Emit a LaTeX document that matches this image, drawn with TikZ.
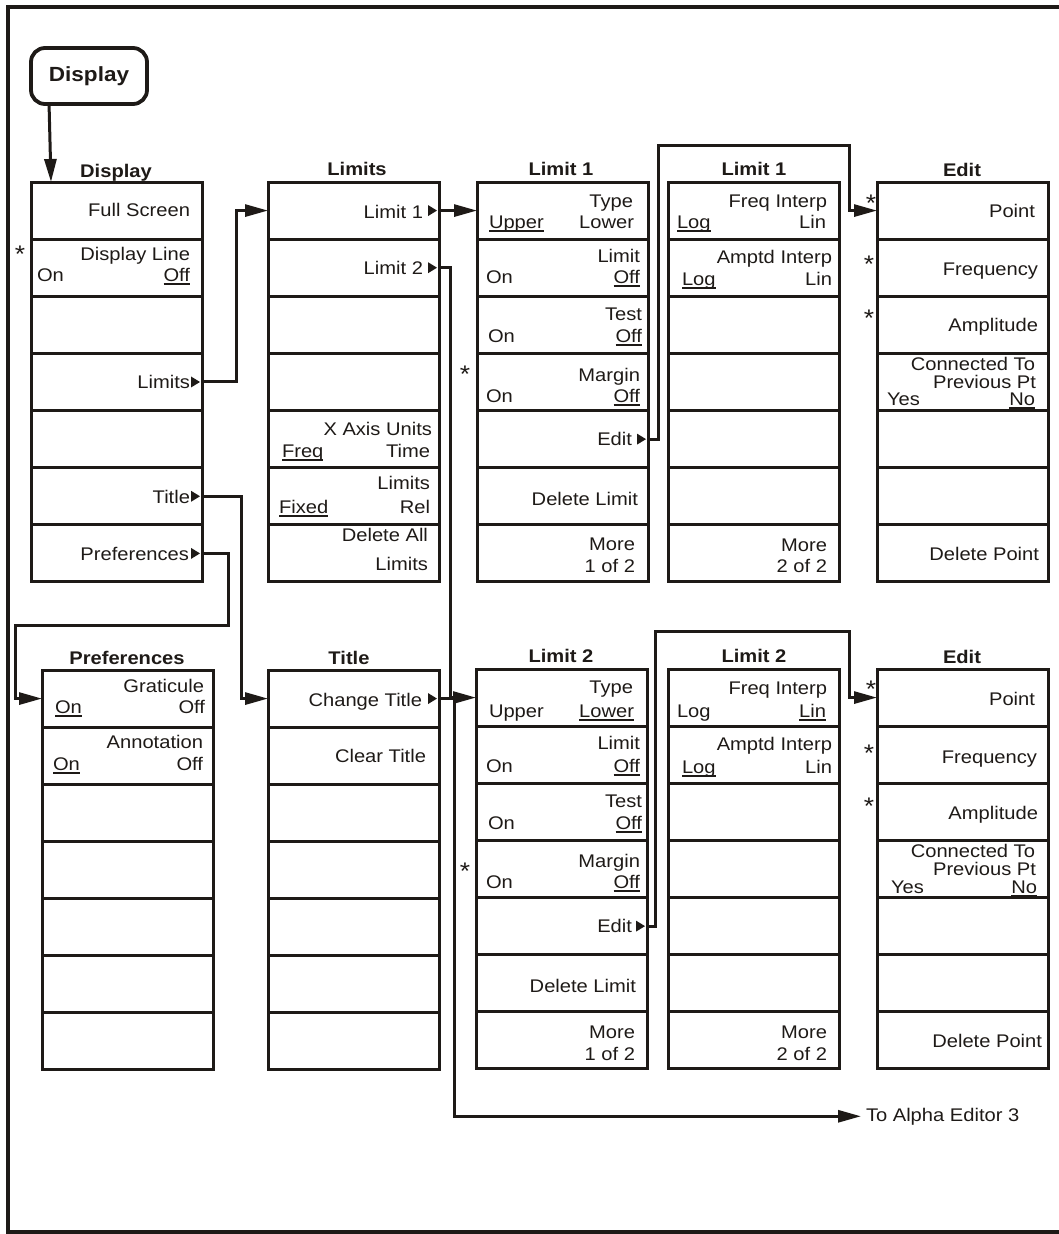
\documentclass[tikz,border=0pt]{standalone}
\usepackage{fontspec}
\setmainfont{Liberation Sans}[FakeStretch=1.1]
\usetikzlibrary{arrows.meta,calc}
\definecolor{ink}{RGB}{30,26,23}
\newcommand\uln[1]{\setbox0\hbox{#1}\rlap{\rule[-4pt]{\wd0}{1.9pt}}\box0}
\newcommand\rt[4]{\node[lbl,anchor=base east] (#1) at (#2,#3) {#4};}
\newcommand\lt[4]{\node[lbl,anchor=base west] (#1) at (#2,#3) {#4};}
\newcommand\hd[4]{\node[hdl] (#1) at (#2,#3) {#4};}
\newcommand\st[3]{\node[starl] (#1) at (#2,#3) {*};}
\newcommand\menucol[3]{\foreach \i in {1,...,7}{\node[keybox] (#1\i) at (#2,{#3+(\i-1)*57.14}) {};}}
\newcommand\trig[1]{\fill[ink] ($(#1.east)+(-11,-5.5)$) -- ($(#1.east)+(-2,0)$) -- ($(#1.east)+(-11,5.5)$) -- cycle;}
\begin{document}
\begin{tikzpicture}[x=1pt,y=-1pt,
  lbl/.style={font=\fontsize{18.3}{18}\selectfont, text=ink, inner sep=0pt, outer sep=0pt},
  starl/.style={font=\fontsize{24}{24}\selectfont, text=ink, inner sep=0pt, outer sep=0pt, anchor=base},
  hdl/.style={font=\fontsize{18.3}{18}\selectfont\bfseries, text=ink, inner sep=0pt, anchor=base},
  keybox/.style={draw=ink, line width=3pt, minimum width=171pt, minimum height=57.14pt, anchor=north west, inner sep=0pt, outer sep=0pt},
  hardkey/.style={draw=ink, line width=3.8pt, rounded corners=14pt, minimum width=116pt, minimum height=56pt, inner sep=0pt, font=\fontsize{20.5}{20}\selectfont\bfseries, text=ink},
  arr/.style={draw=ink, line width=3pt, -{Triangle[length=23pt,width=12pt]}}]
\useasboundingbox (0,0) rectangle (1058,1234);
% frame
\draw[ink, line width=3.8pt] (1060,7) -- (8,7) -- (8,1232) -- (1060,1232);
% hard key
\node[hardkey] (key) at (89,76) {\raisebox{-1pt}{Display}};
% menu columns
\menucol{D}{31}{182}
\menucol{L}{268}{182}
\menucol{A}{477}{182}
\menucol{C}{668}{182}
\menucol{E}{877}{182}
\menucol{P}{42}{670}
\menucol{T}{268}{670}
\menucol{B}{476}{669}
\menucol{G}{668}{669}
\menucol{F}{877}{669}
% headings
\hd{hD}{116}{177}{Display}
\hd{hL}{357}{175}{Limits}
\hd{hA}{561}{175}{Limit 1}
\hd{hC}{754}{175}{Limit 1}
\hd{hE}{962}{176}{Edit}
\hd{hP}{127}{664}{Preferences}
\hd{hT}{349}{664}{Title}
\hd{hB}{561}{662}{Limit 2}
\hd{hG}{754}{662}{Limit 2}
\hd{hF}{962}{663}{Edit}
% Display column
\rt{d1}{190}{216}{Full Screen}
\rt{d2}{190}{260}{Display Line}
\lt{d3}{37}{281}{On}
\rt{d4}{190}{281}{\uln{Off}}
\rt{d5}{190}{388}{Limits}
\rt{d6}{190}{503}{Title}
\rt{d7}{189}{560}{Preferences}
\st{s1}{20}{262}
% Limits column
\rt{l1}{423}{218}{Limit 1}
\rt{l2}{423}{274}{Limit 2}
\rt{l3}{432}{435}{X Axis Units}
\lt{l4}{282}{457}{\uln{Freq}}
\rt{l5}{430}{457}{Time}
\rt{l6}{430}{489}{Limits}
\lt{l7}{279}{513}{\uln{Fixed}}
\rt{l8}{430}{513}{Rel}
\rt{l9}{428}{541}{Delete All}
\rt{l10}{428}{570}{Limits}
% Limit 1 column
\rt{a1}{633}{207}{Type}
\lt{a2}{489}{228}{\uln{Upper}}
\rt{a3}{634}{228}{Lower}
\rt{a4}{640}{262}{Limit}
\lt{a5}{486}{283}{On}
\rt{a6}{640}{283}{\uln{Off}}
\rt{a7}{642}{320}{Test}
\lt{a8}{488}{342}{On}
\rt{a9}{642}{342}{\uln{Off}}
\rt{a10}{640}{381}{Margin}
\lt{a11}{486}{402}{On}
\rt{a12}{640}{402}{\uln{Off}}
\rt{a13}{632}{445}{Edit}
\rt{a14}{638}{505}{Delete Limit}
\rt{a15}{635}{550}{More}
\rt{a16}{635}{572}{1 of 2}
\st{s2}{465}{382}
% Limit 1 page 2
\rt{c1}{827}{207}{Freq Interp}
\lt{c2}{677}{228}{\uln{Log}}
\rt{c3}{826}{228}{Lin}
\rt{c4}{832}{263}{Amptd Interp}
\lt{c5}{682}{285}{\uln{Log}}
\rt{c6}{832}{285}{Lin}
\rt{c7}{827}{551}{More}
\rt{c8}{827}{572}{2 of 2}
% Edit (upper)
\rt{e1}{1035}{217}{Point}
\rt{e2}{1038}{275}{Frequency}
\rt{e3}{1038}{331}{Amplitude}
\rt{e4}{1035}{370}{Connected To}
\rt{e5}{1036}{388}{Previous Pt}
\lt{e6}{887}{405}{Yes}
\rt{e7}{1035}{405}{\uln{No}}
\rt{e8}{1039}{560}{Delete Point}
\st{s3}{871}{211}
\st{s4}{869}{272}
\st{s5}{869}{326}
% Preferences
\rt{p1}{204}{692}{Graticule}
\lt{p2}{55}{713}{\uln{On}}
\rt{p3}{205}{713}{Off}
\rt{p4}{203}{748}{Annotation}
\lt{p5}{53}{770}{\uln{On}}
\rt{p6}{203}{770}{Off}
% Title
\rt{t1}{422}{706}{Change Title}
\rt{t2}{426}{762}{Clear Title}
% Limit 2 column
\rt{b1}{633}{693}{Type}
\lt{b2}{489}{717}{Upper}
\rt{b3}{634}{717}{\uln{Lower}}
\rt{b4}{640}{749}{Limit}
\lt{b5}{486}{772}{On}
\rt{b6}{640}{772}{\uln{Off}}
\rt{b7}{642}{807}{Test}
\lt{b8}{488}{829}{On}
\rt{b9}{642}{829}{\uln{Off}}
\rt{b10}{640}{867}{Margin}
\lt{b11}{486}{888}{On}
\rt{b12}{640}{888}{\uln{Off}}
\rt{b13}{632}{932}{Edit}
\rt{b14}{636}{992}{Delete Limit}
\rt{b15}{635}{1038}{More}
\rt{b16}{635}{1060}{1 of 2}
\st{s6}{465}{879}
% Limit 2 page 2
\rt{g1}{827}{694}{Freq Interp}
\lt{g2}{677}{717}{Log}
\rt{g3}{826}{717}{\uln{Lin}}
\rt{g4}{832}{750}{Amptd Interp}
\lt{g5}{682}{773}{\uln{Log}}
\rt{g6}{832}{773}{Lin}
\rt{g7}{827}{1038}{More}
\rt{g8}{827}{1060}{2 of 2}
% Edit (lower)
\rt{f1}{1035}{705}{Point}
\rt{f2}{1037}{763}{Frequency}
\rt{f3}{1038}{819}{Amplitude}
\rt{f4}{1035}{857}{Connected To}
\rt{f5}{1036}{875}{Previous Pt}
\lt{f6}{891}{893}{Yes}
\rt{f7}{1037}{893}{\uln{No}}
\rt{f8}{1042}{1047}{Delete Point}
\st{s7}{871}{697}
\st{s8}{869}{761}
\st{s9}{869}{814}
% alpha editor label
\node[lbl,anchor=base west] (alpha) at (866,1121) {To Alpha Editor 3};
% submenu triangles
\trig{D4}\trig{D6}\trig{D7}
\trig{L1}\trig{L2}
\trig{A5}\trig{B5}
\trig{T1}
% connectors
\coordinate (pc) at (15,625);
\coordinate (ca) at (849,145);
\coordinate (cb) at (849,631);
\draw[arr] ([xshift=20pt]key.south west) -- ([xshift=20pt]D1.north west);
\draw[arr] (D4.east) -- ++(34,0) |- (L1.west);
\draw[arr] (D6.east) -- ++(39,0) |- (T1.west);
\draw[arr] (D7.east) -- ++(26,0) |- (pc) |- (P1.west);
\draw[arr] (L1.east) -- (A1.west);
\draw[arr] (L2.east) -- ++(11,0) |- (B1.west);
\draw[arr] (A5.east) -- ++(10,0) |- (ca) |- (E1.west);
\draw[arr] (B5.east) -- ++(8,0) |- (cb) |- (F1.west);
\draw[arr, shorten >=5pt] (T1.east) -- ++(15,0) |- (alpha.west);
\end{tikzpicture}
\end{document}
